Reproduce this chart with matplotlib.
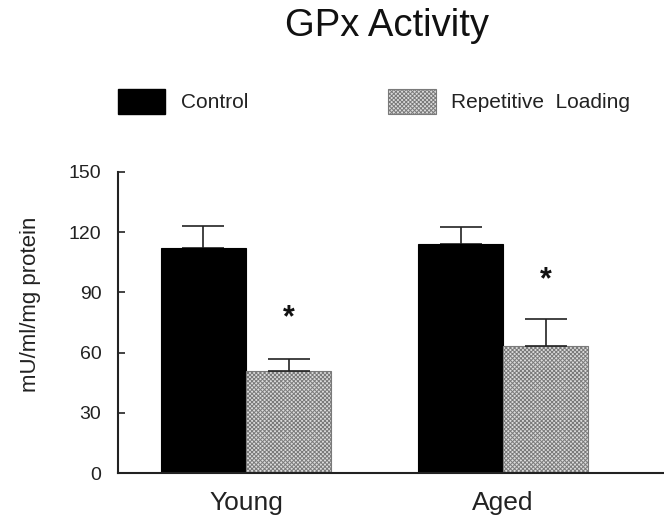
import matplotlib
matplotlib.use("Agg")
import matplotlib.pyplot as plt
from matplotlib.patches import Rectangle
import numpy as np

plt.rcParams['font.family'] = ['Liberation Sans', 'DejaVu Sans']
plt.rcParams['hatch.linewidth'] = 0.7

groups = ["Young", "Aged"]
series = ["Control", "Repetitive  Loading"]
control = [112, 114]
control_err = [11, 8.5]
loading = [51, 63.5]
loading_err = [6, 13]
star_y = [77, 96]
yticks = [0, 30, 60, 90, 120, 150]

HATCH = "xxxxxxxx"
HFACE = "#dcdcdc"
HEDGE = "#7a7a7a"

fig = plt.figure(figsize=(6.64, 5.19), dpi=100)
ax = fig.add_axes([0.1777, 0.0886, 0.8223, 0.580])

x = np.arange(len(groups))
w = 0.331
ax.bar(x - w / 2, control, w, color="black", edgecolor="black", linewidth=0.8, zorder=2)
ax.bar(x + w / 2, loading, w, color=HFACE, edgecolor=HEDGE, hatch=HATCH,
       linewidth=0.8, zorder=2)

ax.errorbar(x - w / 2, control, yerr=[[0] * len(control), control_err], fmt="none",
            ecolor="#222222", elinewidth=1.2, capsize=15, capthick=1.2, zorder=1)
ax.errorbar(x + w / 2, loading, yerr=[[0] * len(loading), loading_err], fmt="none",
            ecolor="#222222", elinewidth=1.2, capsize=15, capthick=1.2, zorder=3)

for xi, sy in zip(x + w / 2, star_y):
    ax.text(xi, sy, "*", ha="center", va="center", fontsize=22, fontweight="bold",
            color="#111111")

ax.set_xlim(-0.498, 1.626)
ax.set_ylim(0, 150)
ax.set_yticks(yticks)
ax.set_xticks(x)
ax.set_xticklabels(groups, fontsize=19, color="#222222")
ax.tick_params(axis="x", length=0, pad=13)
ax.tick_params(axis="y", direction="in", length=5, width=1.2, labelsize=14,
               colors="#222222", pad=12)
for s in ["top", "right"]:
    ax.spines[s].set_visible(False)
for s in ["left", "bottom"]:
    ax.spines[s].set_linewidth(1.5)
    ax.spines[s].set_color("#222222")
ax.set_ylabel("mU/ml/mg protein", fontsize=16, color="#222222")
ax.yaxis.label.set_va("center")
ax.yaxis.set_label_coords(-0.161, 0.561)

fig.text(0.583, 0.950, "GPx Activity", ha="center", va="center", fontsize=27.5,
         color="#111111")

# legend
fig.patches.append(Rectangle((118 / 664, 1 - 114 / 519), 47 / 664, 25 / 519,
                             transform=fig.transFigure, facecolor="black",
                             edgecolor="black", figure=fig))
fig.text(181 / 664, 1 - 103 / 519, series[0], ha="left", va="center", fontsize=15,
         color="#222222")
fig.patches.append(Rectangle((388 / 664, 1 - 114 / 519), 48 / 664, 25 / 519,
                             transform=fig.transFigure, facecolor=HFACE,
                             edgecolor=HEDGE, hatch=HATCH, linewidth=0.8,
                             figure=fig))
fig.text(451 / 664, 1 - 103 / 519, series[1], ha="left", va="center", fontsize=15,
         color="#222222")

fig.savefig("out.png", dpi=100)
